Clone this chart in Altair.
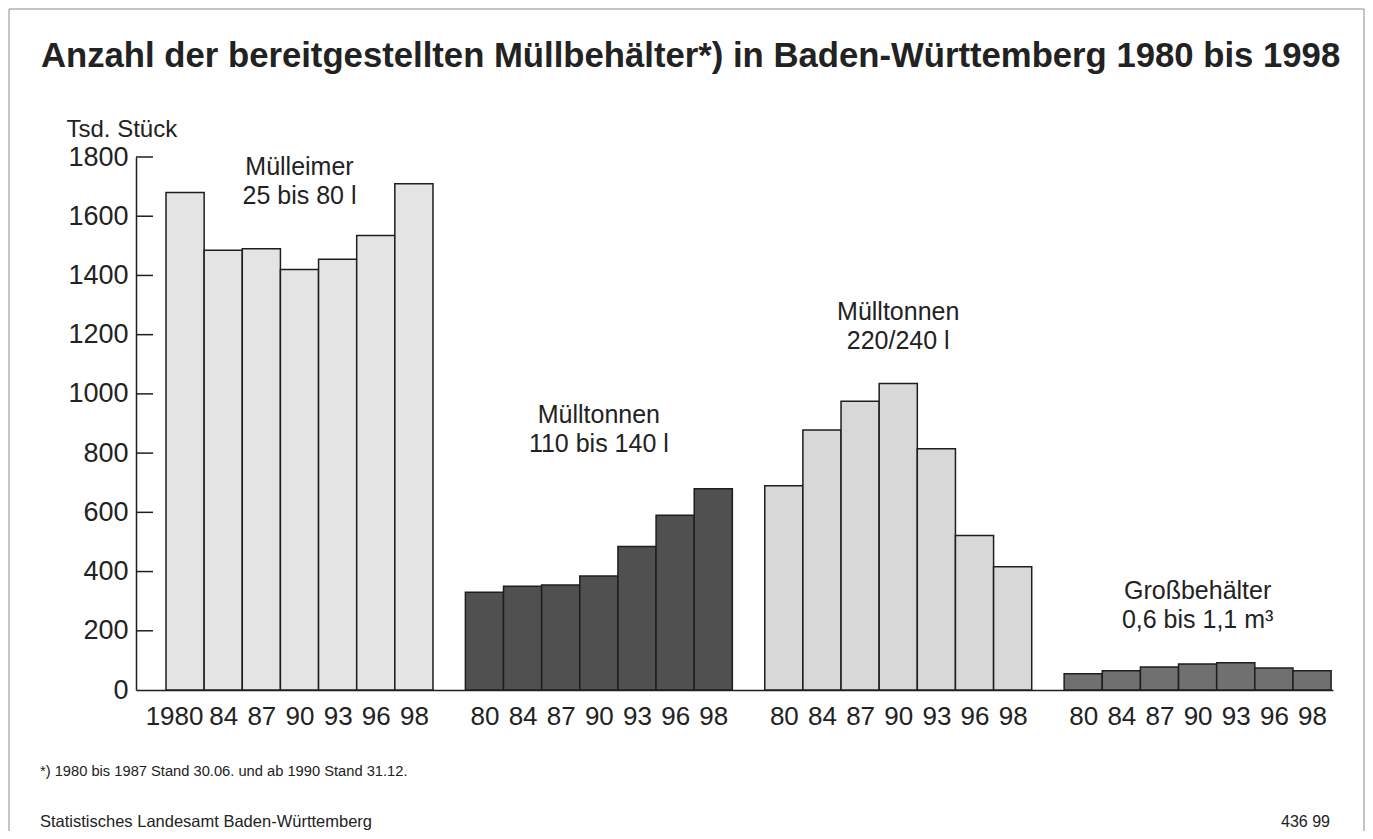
import altair as alt
import pandas as pd

# ---------------- data ----------------
group_keys = ["muelleimer", "tonnen_110_140", "tonnen_220_240", "grossbehaelter"]
group_line1 = ["Mülleimer", "Mülltonnen", "Mülltonnen", "Großbehälter"]
group_line2 = ["25 bis 80 l", "110 bis 140 l", "220/240 l", "0,6 bis 1,1 m³"]
year_labels = ["80", "84", "87", "90", "93", "96", "98"]
first_year_label = "1980"

muelleimer = [1680, 1485, 1490, 1420, 1455, 1535, 1710]
tonnen_110_140 = [330, 350, 355, 385, 485, 590, 680]
tonnen_220_240 = [690, 878, 975, 1035, 815, 522, 416]
grossbehaelter = [55, 65, 78, 88, 92, 74, 65]

y_ticks = [0, 200, 400, 600, 800, 1000, 1200, 1400, 1600, 1800]

# annotation anchor (data units, centre of first line)
label_anchor = [1766, 929, 1277, 334]

title_text = "Anzahl der bereitgestellten Müllbehälter*) in Baden-Württemberg 1980 bis 1998"
footnote_text = "*) 1980 bis 1987 Stand 30.06. und ab 1990 Stand 31.12."
source_text = "Statistisches Landesamt Baden-Württemberg"
number_text = "436 99"

# ---------------- layout / style ----------------
STEP = 7.85          # group step in bar widths (7 bars + gap)
X_MIN, X_MAX = -0.787, 30.6
W, H = 1197, 533
FONT = "Liberation Sans"
TXT = "#222222"
LINE = "#1e1e1e"
fills = ["#e4e4e4", "#505050", "#d8d8d8", "#707070"]

values_by_group = [muelleimer, tonnen_110_140, tonnen_220_240, grossbehaelter]
rows = []
for g, (key, vals) in enumerate(zip(group_keys, values_by_group)):
    for i, (yl, v) in enumerate(zip(year_labels, vals)):
        x0 = g * STEP + i
        rows.append(dict(group=key, x0=x0, x1=x0 + 1, xc=x0 + 0.5, base=0,
                         label=first_year_label if (g == 0 and i == 0) else yl,
                         value=v))
df = pd.DataFrame(rows)

ann = pd.DataFrame(dict(
    xc=[g * STEP + 3.5 for g in range(4)],
    yv=label_anchor,
    line1=group_line1,
    line2=group_line2,
))

centers = df["xc"].tolist()
labels = df["label"].tolist()
label_expr = ("[" + ",".join("'%s'" % l for l in labels) + "][indexof(["
              + ",".join(repr(c) for c in centers) + "], datum.value)]")

xscale = alt.Scale(domain=[X_MIN, X_MAX], nice=False, zero=False)
yscale = alt.Scale(domain=[0, 1800], nice=False)

x_axis = alt.Axis(
    values=centers, labelExpr=label_expr, tickSize=0, labelPadding=13,
    labelOverlap=False, labelFlush=False, labelFontSize=26, labelFont=FONT,
    labelColor=TXT, labelBaseline="top",
    labelOffset={"condition": {"test": "datum.value < 1", "value": -11}, "value": 0},
    domain=True, domainColor=LINE, domainWidth=1.5, grid=False, title=None)
y_axis = alt.Axis(
    values=y_ticks, format="d", tickSize=0, labelPadding=8, labelFontSize=27,
    labelFont=FONT, labelColor=TXT, domainColor=LINE, domainWidth=1.5, grid=False,
    title="Tsd. Stück", titleAngle=0, titleX=-70, titleY=-21, titleAlign="left",
    titleBaseline="alphabetic", titleFontSize=24, titleFontWeight="normal",
    titleFont=FONT, titleColor=TXT)

bars = alt.Chart(df).mark_rect(stroke=LINE, strokeWidth=1.5).encode(
    x=alt.X("x0:Q", scale=xscale, axis=x_axis),
    x2="x1:Q",
    y=alt.Y("value:Q", scale=yscale, axis=y_axis),
    y2="base:Q",
    color=alt.Color("group:N", scale=alt.Scale(domain=group_keys, range=fills), legend=None),
)

ticks = alt.Chart(pd.DataFrame({"tick": y_ticks[1:]})).mark_rule(
    color=LINE, strokeWidth=1.5).encode(
    y=alt.Y("tick:Q", scale=yscale, axis=y_axis),
    x=alt.value(0), x2=alt.value(17),
)

ann1 = alt.Chart(ann).mark_text(fontSize=25, font=FONT, color=TXT, baseline="middle").encode(
    x=alt.X("xc:Q", scale=xscale, axis=x_axis),
    y=alt.Y("yv:Q", scale=yscale, axis=y_axis),
    text="line1:N",
)
ann2 = alt.Chart(ann).mark_text(fontSize=25, font=FONT, color=TXT, baseline="middle", dy=29).encode(
    x=alt.X("xc:Q", scale=xscale, axis=x_axis),
    y=alt.Y("yv:Q", scale=yscale, axis=y_axis),
    text="line2:N",
)


def deco(text, x, y, size, align="left", weight="normal"):
    return alt.Chart(alt.Data(values=[{"t": text}])).mark_text(
        fontSize=size, font=FONT, color=TXT, align=align, baseline="alphabetic",
        fontWeight=weight).encode(x=alt.value(x), y=alt.value(y), text="t:N")


title = deco(title_text, -95, -90, 34.7, weight="bold")
foot = deco(footnote_text, -96, 619, 14.7)
source = deco(source_text, -96, 670, 16.5)
number = deco(number_text, 1194, 670, 16, align="right")

frame = alt.Chart(alt.Data(values=[{}])).mark_rect(
    fillOpacity=0, stroke="#8a8a8a", strokeWidth=1).encode(
    x=alt.value(-127), x2=alt.value(1228), y=alt.value(-148), y2=alt.value(720))

chart = alt.layer(bars, ticks, ann1, ann2, frame, title, foot, source, number).properties(
    width=W, height=H,
    autosize=alt.AutoSizeParams(type="none"),
    padding={"left": 128, "top": 149, "right": 32, "bottom": 141},
    background="white",
).configure_view(stroke=None)

chart.save("out.html", embed_options={"renderer": "svg", "actions": False})
